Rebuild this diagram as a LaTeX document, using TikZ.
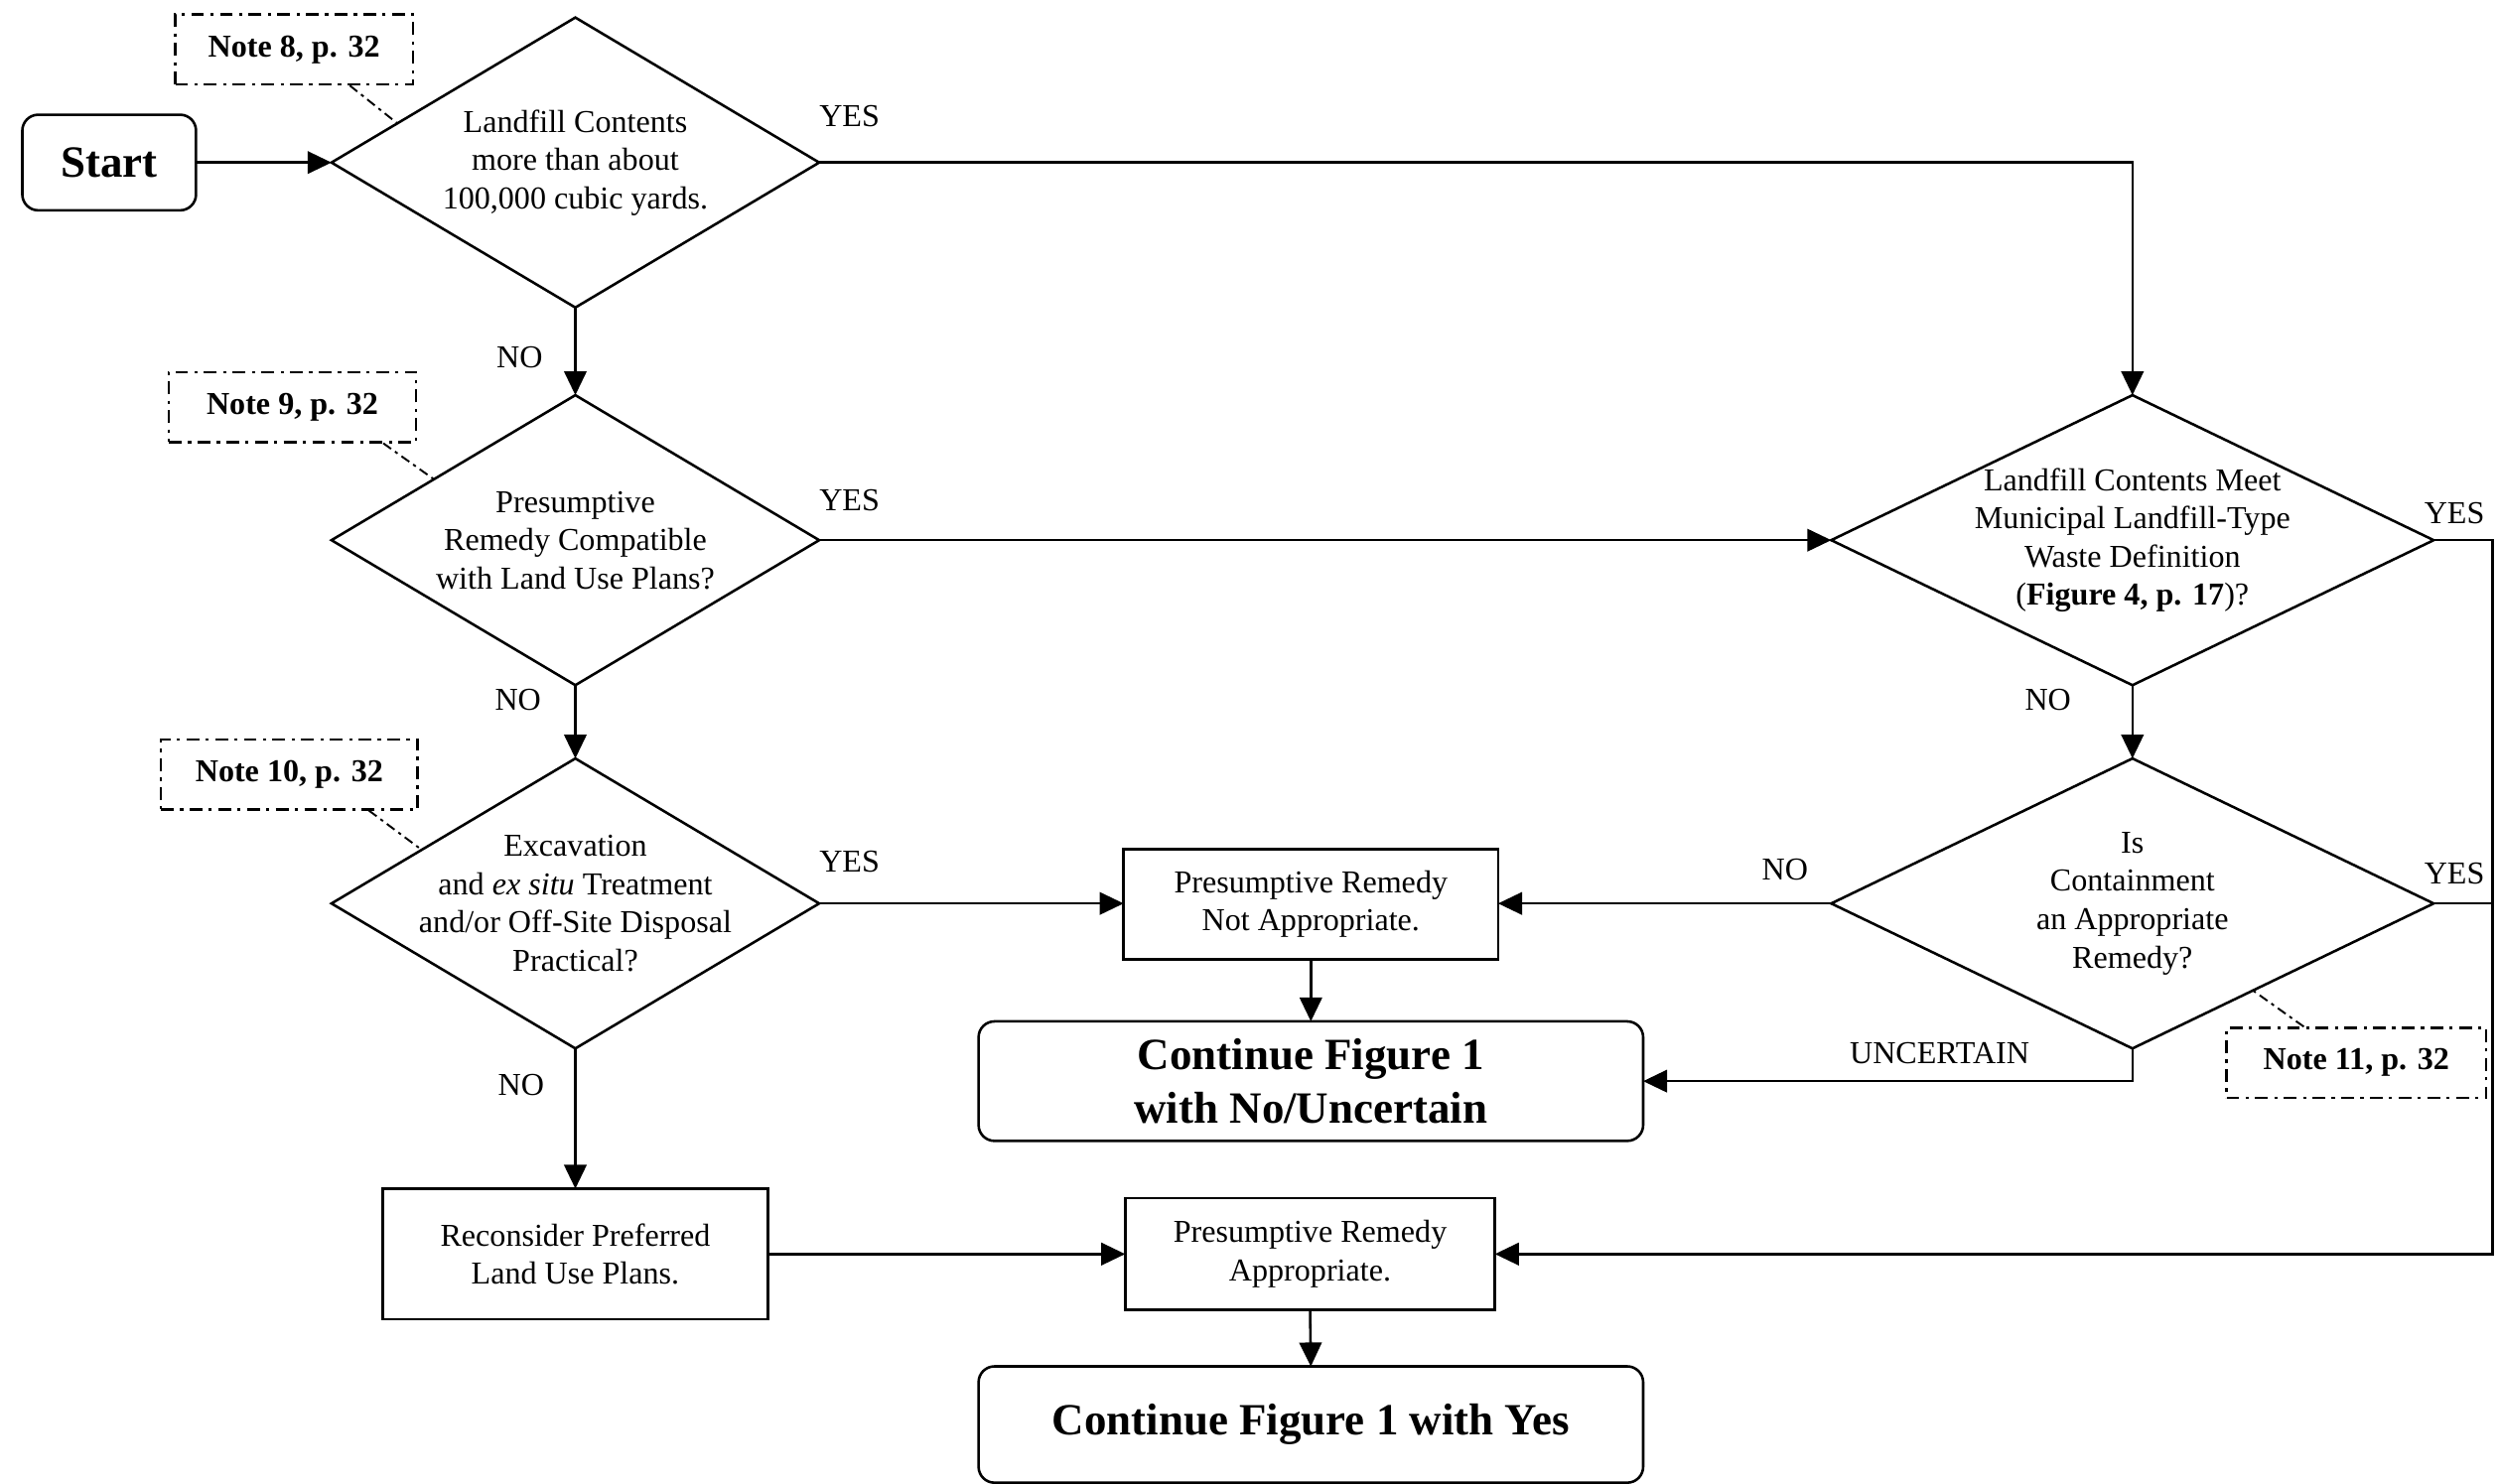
\documentclass[tikz,border=0pt]{standalone}
\usepackage{fontspec}
\setmainfont{Liberation Serif}
\usepackage{tikz}
\usetikzlibrary{shapes, arrows.meta, positioning, calc}

\begin{document}
\begin{tikzpicture}[x=0.5pt, y=-0.5pt, line width=0.8pt,
  decision/.style={draw, shape=diamond, inner sep=-6pt, outer sep=0pt, align=center,
    minimum width=153pt, minimum height=91pt, shape aspect=1.68},
  widedecision/.style={decision, minimum width=189pt, shape aspect=2.08},
  process/.style={draw, rectangle, align=center, inner sep=2pt, outer sep=0pt},
  terminal/.style={draw, rectangle, rounded corners=5pt, align=center, outer sep=0pt,
    font=\fontsize{14}{17}\selectfont\bfseries},
  notebox/.style={draw, dash pattern=on 4pt off 2pt on 1pt off 2pt, line width=0.7pt,
    minimum height=22pt, inner sep=0pt, font=\bfseries},
  noteline/.style={dash pattern=on 3pt off 1.5pt on 1pt off 1.5pt, line width=0.6pt},
  lbl/.style={inner sep=0pt},
  flow/.style={-{Triangle[length=7.5pt, width=7pt]}}]

  \useasboundingbox (0,0) rectangle (1568,931);

  % left column
  \node[terminal, minimum width=54.5pt, minimum height=30pt] (start) at (68.5,102) {Start};
  \node[decision] (d1) at (361,102) {Landfill Contents\\more than about\\100,000 cubic yards.};
  \node[decision] (d2) at (361,339) {Presumptive\\Remedy Compatible\\with Land Use Plans?};
  \node[decision] (d3) at (361,567) {Excavation\\and \textit{ex situ} Treatment\\and/or Off-Site Disposal\\Practical?};
  \node[process, minimum width=121pt, minimum height=41pt] (rpl) at (361,787) {Reconsider Preferred\\Land Use Plans.};

  % right column
  \node[widedecision] (d4) at (1338,339) {Landfill Contents Meet\\Municipal Landfill-Type\\Waste Definition\\(\textbf{Figure 4, p. 17})?};
  \node[widedecision] (d5) at (1338,567) {Is\\Containment\\an Appropriate\\Remedy?};

  % middle column
  \node[process, minimum width=117.5pt, minimum height=34.5pt] (prna) at (822.5,567.5) {Presumptive Remedy\\Not Appropriate.};
  \node[terminal, minimum width=208.5pt, minimum height=37.5pt] (cfnu) at (822.5,678.5) {Continue Figure 1\\with No/Uncertain};
  \node[process, minimum width=116pt, minimum height=35pt] (pra) at (822,787) {Presumptive Remedy\\Appropriate.};
  \node[terminal, minimum width=208.5pt, minimum height=36.5pt] (cfy) at (822.5,894) {Continue Figure 1 with Yes};

  % notes
  \node[notebox, minimum width=74.5pt] (note8) at (184.5,31) {Note 8, p. 32};
  \node[notebox, minimum width=77.5pt] (note9) at (183.5,255.5) {Note 9, p. 32};
  \node[notebox, minimum width=80.5pt] (note10) at (181.5,486) {Note 10, p. 32};
  \node[notebox, minimum width=81.5pt] (note11) at (1478.5,667) {Note 11, p. 32};
  \draw[noteline] ($(note8.south)+(35,0)$) -- ($(d1.west)!0.27!(d1.north)$);
  \draw[noteline] ($(note9.south)+(57,0)$) -- ($(d2.west)!0.42!(d2.north)$);
  \draw[noteline] ($(note10.south)+(50,0)$) -- ($(d3.west)!0.37!(d3.north)$);
  \draw[noteline] ($(note11.north)+(-33,0)$) -- ($(d5.east)!0.6!(d5.south)$);

  % connectors
  \coordinate (rightbus) at (1564,339);
  \draw[flow] (start) -- (d1.west);
  \draw[flow] (d1.east) -| (d4.north);
  \draw[flow] (d1.south) -- (d2.north);
  \draw[flow] (d2.east) -- (d4.west);
  \draw[flow] (d2.south) -- (d3.north);
  \draw[flow] (d3.east) -- (d3.east -| prna.west);
  \draw[flow] (d3.south) -- (rpl.north);
  \draw[flow] (d4.south) -- (d5.north);
  \draw[flow] (d5.west) -- (d5.west -| prna.east);
  \draw[flow] (d5.south) |- (cfnu.east);
  \draw[flow] (d4.east) -- (rightbus) |- (pra.east);
  \draw (d5.east) -- (d5.east -| rightbus);
  \draw[flow] (prna.south) -- (cfnu.north);
  \draw[flow] (rpl.east) -- (pra.west);
  \draw[flow] (pra.south) -- (cfy.north);

  % branch labels
  \node[lbl] (yes1) at (533,73) {YES};
  \node[lbl] (no1) at (326,224) {NO};
  \node[lbl] (yes2) at (533,314) {YES};
  \node[lbl] (no2) at (325,439) {NO};
  \node[lbl] (yes3) at (533,541) {YES};
  \node[lbl] (no3) at (327,681) {NO};
  \node[lbl] (yes4) at (1540,322) {YES};
  \node[lbl] (no4) at (1285,439) {NO};
  \node[lbl] (no5) at (1120,546) {NO};
  \node[lbl] (yes5) at (1540,548) {YES};
  \node[lbl] (unc) at (1217,661) {UNCERTAIN};
\end{tikzpicture}
\end{document}
